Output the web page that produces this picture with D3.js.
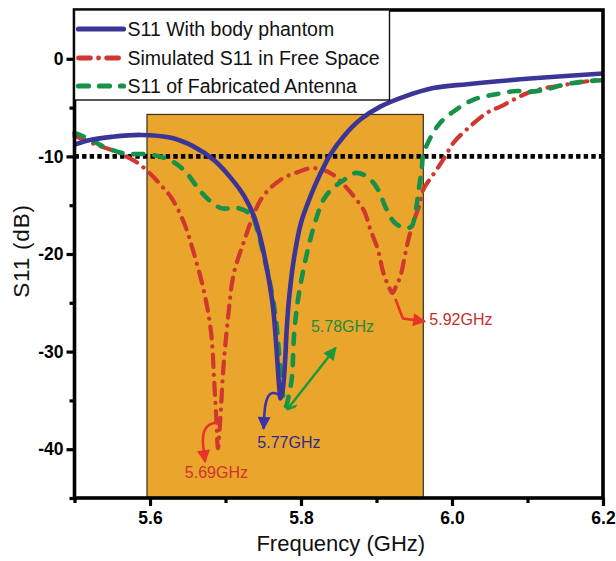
<!DOCTYPE html>
<html>
<head>
<meta charset="utf-8">
<script src="https://cdn.jsdelivr.net/npm/d3@7"></script>
<style>
  html, body { margin: 0; padding: 0; background: #fff; }
  svg { display: block; }
  text { font-family: "Liberation Sans", Arial, sans-serif; }
</style>
</head>
<body>
<svg id="chart" width="616" height="561"></svg>
<script>
// ---- data -------------------------------------------------------------
// S11 with body phantom
const bodyFreq = [5.500,5.522,5.549,5.588,5.628,5.658,5.685,5.707,5.725,5.738,5.747,5.756,5.763,5.768,5.771,5.773,5.776,5.779,5.781,5.784,5.791,5.800,5.813,5.826,5.839,5.857,5.879,5.905,5.936,5.975,6.020,6.108,6.200];
const bodyS11  = [-8.8,-8.3,-8.0,-7.8,-8.1,-9.0,-10.4,-12.2,-14.1,-16.2,-18.6,-22.0,-25.5,-30.2,-33.5,-34.8,-33.8,-30.9,-27.8,-24.7,-20.3,-16.8,-14.0,-11.7,-9.8,-7.9,-6.2,-4.9,-3.9,-3.0,-2.6,-2.0,-1.5];

// Simulated S11 in free space
const freeFreq = [5.500,5.532,5.558,5.571,5.586,5.602,5.615,5.628,5.645,5.658,5.672,5.681,5.685,5.688,5.690,5.693,5.697,5.703,5.711,5.725,5.736,5.747,5.760,5.777,5.796,5.813,5.830,5.843,5.859,5.870,5.883,5.892,5.902,5.909,5.916,5.921,5.926,5.932,5.937,5.942,5.949,5.956,5.962,5.972,5.981,5.991,6.002,6.020,6.047,6.064,6.097,6.117,6.139,6.170,6.200];
const freeS11  = [-7.9,-8.9,-9.6,-10.1,-10.8,-11.9,-13.0,-14.2,-16.8,-19.9,-24.0,-28.1,-33.0,-37.1,-39.9,-37.1,-31.9,-26.8,-22.0,-18.6,-16.2,-14.4,-13.2,-12.2,-11.6,-11.2,-11.4,-11.9,-13.1,-14.1,-15.5,-17.5,-19.6,-21.9,-23.3,-24.0,-23.3,-22.2,-20.4,-18.6,-16.7,-15.2,-13.4,-12.2,-11.2,-10.0,-8.6,-7.2,-5.5,-4.9,-3.6,-3.1,-2.8,-2.4,-2.1];

// S11 of fabricated antenna
const fabFreq = [5.500,5.522,5.536,5.566,5.598,5.624,5.645,5.664,5.677,5.694,5.717,5.734,5.743,5.751,5.760,5.767,5.771,5.776,5.780,5.785,5.788,5.791,5.796,5.804,5.817,5.830,5.843,5.857,5.872,5.888,5.902,5.912,5.923,5.936,5.946,5.952,5.956,5.960,5.962,5.972,5.985,6.002,6.028,6.060,6.086,6.100,6.121,6.152,6.179,6.200];
const fabS11  = [-7.6,-8.3,-8.9,-9.7,-9.8,-10.3,-11.4,-13.3,-14.4,-15.3,-15.3,-16.0,-17.8,-20.3,-23.4,-26.8,-30.2,-34.3,-35.6,-34.0,-32.6,-28.1,-24.7,-21.3,-17.2,-14.4,-13.2,-12.4,-11.7,-12.1,-13.4,-15.2,-16.7,-17.3,-17.2,-15.5,-13.4,-11.2,-9.8,-8.0,-6.5,-5.4,-4.2,-3.6,-3.3,-3.4,-3.2,-2.6,-2.3,-2.2];

const seriesNames = ["S11 With body phantom", "Simulated S11 in Free Space", "S11 of Fabricated Antenna"];

// operating band and -10 dB reference
const bandFreq = [5.596, 5.962];
const bandTop = -5.7;
const refLevel = -10;

// axis ticks
const xTicks = [5.6, 5.8, 6.0, 6.2];
const xMinorTicks = [5.5, 5.7, 5.9, 6.1];
const yTicks = [-40, -30, -20, -10, 0];
const yMinorTicks = [-45, -35, -25, -15, -5];

// resonance labels
const resonanceLabels = ["5.69GHz", "5.77GHz", "5.78GHz", "5.92GHz"];

// ---- layout -------------------------------------------------------------
const svg = d3.select("#chart");
const x = d3.scaleLinear().domain([5.5, 6.2]).range([74.5, 603]);
const y = d3.scaleLinear().domain([-45, 5]).range([498, 10]);

const colors = { body: "#3a3597", free: "#d0372f", fab: "#17914a" };

const defs = svg.append("defs");
function arrowMarker(id, color) {
  defs.append("marker")
    .attr("id", id)
    .attr("viewBox", "0 0 10 10")
    .attr("refX", 9).attr("refY", 5)
    .attr("markerUnits", "userSpaceOnUse")
    .attr("markerWidth", 15).attr("markerHeight", 13)
    .attr("orient", "auto")
    .append("path").attr("d", "M0,0 L10,5 L0,10 Z").attr("fill", color);
}
arrowMarker("arrRed", "#e8322a");
arrowMarker("arrBlue", "#3b33a6");
arrowMarker("arrGreen", "#169a3c");
defs.append("marker")
  .attr("id", "chevGreen")
  .attr("viewBox", "0 0 10 10")
  .attr("refX", 1).attr("refY", 5)
  .attr("markerUnits", "userSpaceOnUse")
  .attr("markerWidth", 11).attr("markerHeight", 11)
  .attr("orient", "auto")
  .append("path").attr("d", "M9,0 L1,5 L9,10").attr("fill", "none")
  .attr("stroke", "#169a3c").attr("stroke-width", 2.2);

// ---- operating band -------------------------------------------------------
svg.append("rect")
  .attr("x", x(bandFreq[0])).attr("y", y(bandTop))
  .attr("width", x(bandFreq[1]) - x(bandFreq[0]))
  .attr("height", y(-45) - y(bandTop))
  .attr("fill", "#e9a52c").attr("stroke", "#3a3020").attr("stroke-width", 1.2);

// -10 dB reference line
svg.append("line")
  .attr("x1", x(5.5)).attr("x2", x(6.2))
  .attr("y1", y(refLevel)).attr("y2", y(refLevel))
  .attr("stroke", "#000").attr("stroke-width", 4.8)
  .attr("stroke-dasharray", "4.4,3.2");

// ---- curves --------------------------------------------------------------
const line = d3.line().x(d => x(d[0])).y(d => y(d[1])).curve(d3.curveCatmullRom.alpha(0.5));
const zip = (a, b) => a.map((v, i) => [v, b[i]]);

const styles = [
  { color: colors.body, dash: null, width: 4.6 },
  { color: colors.free, dash: "12,8,0.1,8", width: 4.2 },
  { color: colors.fab, dash: "10,11", width: 4.6 }
];

svg.append("path").datum(zip(freeFreq, freeS11)).attr("d", line)
  .attr("fill", "none").attr("stroke", styles[1].color).attr("stroke-width", styles[1].width)
  .attr("stroke-linecap", "round").attr("stroke-dasharray", styles[1].dash);
svg.append("path").datum(zip(fabFreq, fabS11)).attr("d", line)
  .attr("fill", "none").attr("stroke", styles[2].color).attr("stroke-width", styles[2].width)
  .attr("stroke-linecap", "round").attr("stroke-dasharray", styles[2].dash);
svg.append("path").datum(zip(bodyFreq, bodyS11)).attr("d", line)
  .attr("fill", "none").attr("stroke", styles[0].color).attr("stroke-width", styles[0].width)
  .attr("stroke-linejoin", "round");

// ---- resonance annotations -------------------------------------------------
const curvy = d3.line().x(d => x(d[0])).y(d => y(d[1])).curve(d3.curveBasis);
const annFont = "16px";

// 5.69 GHz (free space)
svg.append("path")
  .datum([[5.692, -37.2], [5.676, -37.4], [5.668, -38.6], [5.673, -41.3]])
  .attr("d", curvy).attr("fill", "none").attr("stroke", "#e8322a").attr("stroke-width", 2.6)
  .attr("marker-end", "url(#arrRed)");
svg.append("text").attr("x", x(5.688)).attr("y", y(-42.9))
  .attr("text-anchor", "middle").attr("font-size", annFont).attr("fill", "#d3312c")
  .text(resonanceLabels[0]);

// 5.77 GHz (body phantom)
svg.append("path")
  .datum([[5.775, -34.6], [5.762, -34.0], [5.752, -34.9], [5.7505, -37.9]])
  .attr("d", curvy).attr("fill", "none").attr("stroke", "#3b33a6").attr("stroke-width", 2.6)
  .attr("marker-end", "url(#arrBlue)");
svg.append("text").attr("x", x(5.784)).attr("y", y(-39.9))
  .attr("text-anchor", "middle").attr("font-size", annFont).attr("fill", "#2f2a8c")
  .text(resonanceLabels[1]);

// 5.78 GHz (fabricated)
svg.append("path")
  .datum([[5.782, -35.9], [5.846, -29.6]])
  .attr("d", d3.line().x(d => x(d[0])).y(d => y(d[1])))
  .attr("fill", "none").attr("stroke", "#169a3c").attr("stroke-width", 2.4)
  .attr("marker-end", "url(#arrGreen)").attr("marker-start", "url(#chevGreen)");
svg.append("text").attr("x", x(5.855)).attr("y", y(-28.0))
  .attr("text-anchor", "middle").attr("font-size", annFont).attr("fill", "#1f8a3e")
  .text(resonanceLabels[2]);

// 5.92 GHz (free space)
svg.append("path")
  .datum([[5.925, -24.6], [5.935, -26.6], [5.964, -26.9]])
  .attr("d", d3.line().x(d => x(d[0])).y(d => y(d[1])))
  .attr("fill", "none").attr("stroke", "#e8322a").attr("stroke-width", 2.6)
  .attr("stroke-linejoin", "round")
  .attr("marker-end", "url(#arrRed)");
svg.append("text").attr("x", x(5.970)).attr("y", y(-27.3))
  .attr("text-anchor", "start").attr("font-size", annFont).attr("fill", "#c3302b")
  .text(resonanceLabels[3]);

// ---- frame and axes ------------------------------------------------------
svg.append("rect")
  .attr("x", x(5.5)).attr("y", y(5))
  .attr("width", x(6.2) - x(5.5)).attr("height", y(-45) - y(5))
  .attr("fill", "none").attr("stroke", "#000").attr("stroke-width", 3.6);

const plainNum = d => String(d);
const xAxis = svg.append("g").attr("transform", `translate(0,${y(-45)})`)
  .call(d3.axisBottom(x).tickValues(xTicks).tickSize(8).tickPadding(6).tickFormat(d3.format(".1f")));
const xMinor = svg.append("g").attr("transform", `translate(0,${y(-45)})`)
  .call(d3.axisBottom(x).tickValues(xMinorTicks).tickSize(5).tickFormat(""));
const yAxis = svg.append("g").attr("transform", `translate(${x(5.5)},0)`)
  .call(d3.axisLeft(y).tickValues(yTicks).tickSize(8).tickPadding(3).tickFormat(plainNum));
const yMinor = svg.append("g").attr("transform", `translate(${x(5.5)},0)`)
  .call(d3.axisLeft(y).tickValues(yMinorTicks).tickSize(5).tickFormat(""));

[xAxis, xMinor, yAxis, yMinor].forEach(g => {
  g.select(".domain").remove();
  g.selectAll(".tick line").attr("stroke", "#000").attr("stroke-width", 3.2);
  g.selectAll(".tick text")
    .attr("fill", "#000").attr("font-size", "17.5px").attr("font-weight", "bold")
    .attr("font-family", "'Liberation Sans', Arial, sans-serif");
});

// axis titles
svg.append("text")
  .attr("x", (x(5.5) + x(6.2)) / 2 + 2).attr("y", 551)
  .attr("text-anchor", "middle").attr("font-size", "22px").attr("fill", "#111")
  .text("Frequency (GHz)");
svg.append("text")
  .attr("transform", `translate(29,${(y(5) + y(-45)) / 2 - 3}) rotate(-90)`)
  .attr("text-anchor", "middle").attr("font-size", "22.5px").attr("fill", "#111")
  .attr("letter-spacing", "0.8px")
  .text("S11 (dB)");

// ---- legend --------------------------------------------------------------
const legend = svg.append("g");
legend.append("rect")
  .attr("x", x(5.5)).attr("y", y(5))
  .attr("width", 315).attr("height", 90)
  .attr("fill", "#fff").attr("stroke", "#111").attr("stroke-width", 1.4);
const rowY = [29, 58, 86];
seriesNames.forEach((name, i) => {
  const st = styles[i];
  legend.append("line")
    .attr("x1", x(5.5) + 4).attr("x2", x(5.5) + 49)
    .attr("y1", rowY[i]).attr("y2", rowY[i])
    .attr("stroke", st.color).attr("stroke-width", st.width + 0.6)
    .attr("stroke-linecap", "round")
    .attr("stroke-dasharray", st.dash);
  legend.append("text")
    .attr("x", x(5.5) + 53).attr("y", rowY[i] + 7)
    .attr("font-size", "19.5px").attr("fill", "#111")
    .text(name);
});
</script>
</body>
</html>
